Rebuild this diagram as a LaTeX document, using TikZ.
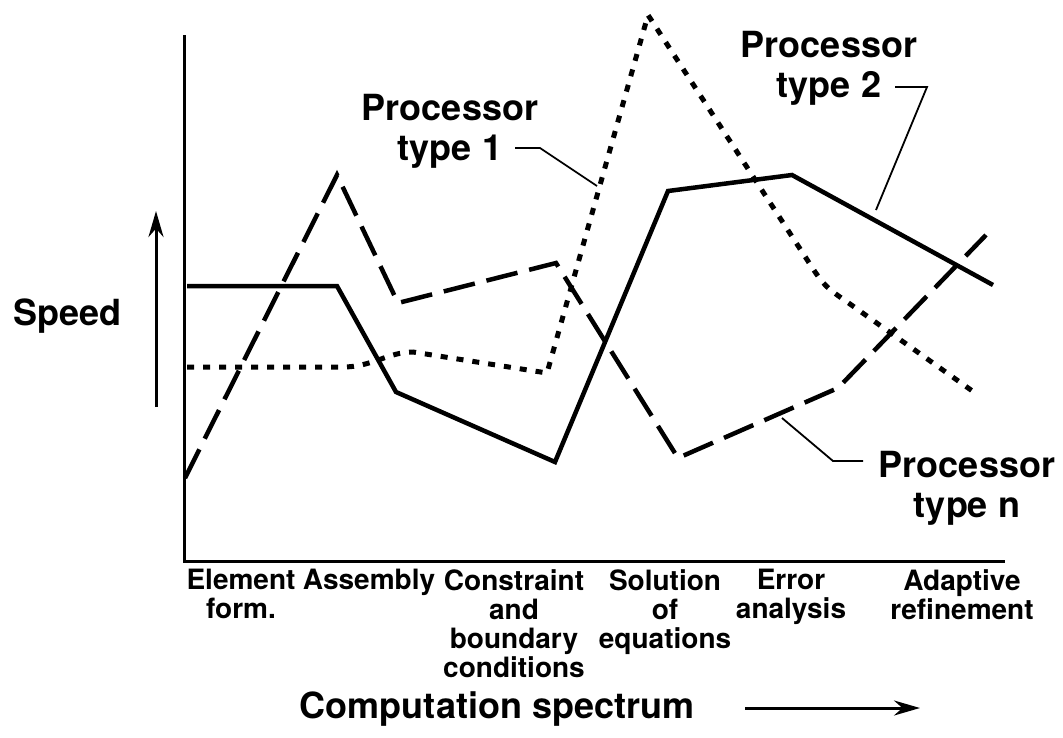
\documentclass[tikz,border=0pt]{standalone}
\usepackage{fontspec}
\setmainfont{TeX Gyre Heros}
\usetikzlibrary{arrows.meta}
\begin{document}
\begin{tikzpicture}[x=1pt,y=-1pt,
  axis/.style={line width=3pt},
  curve/.style={line width=4.5pt, line join=miter},
  leader/.style={line width=1.8pt},
  lbl/.style={font=\fontsize{36}{40}\selectfont\bfseries, align=center, inner sep=0pt},
  ticklbl/.style={font=\fontsize{28}{29}\selectfont\bfseries, align=center, inner sep=0pt, anchor=north},
  typeone/.style={curve, line width=5pt, dash pattern=on 7pt off 9pt},
  typetwo/.style={curve},
  typen/.style={curve, dash pattern=on 32pt off 12pt},
  bigarrow/.style={line width=3pt, -{Stealth[length=26pt,width=15pt]}}
]
\useasboundingbox (0,0) rectangle (1063,737);

% axes
\coordinate (ytop) at (184,35);
\coordinate (orig) at (184,561);
\coordinate (xend) at (1005,561);
\draw[axis] (ytop) -- (orig) -- (xend);

% speed arrow
\coordinate (sp0) at (156,407);
\coordinate (sp1) at (156,211);
\draw[bigarrow] (sp0) -- (sp1);
\node[lbl, anchor=base west] (speed) at (13,325) {Speed};

% processor type 2 (solid)
\draw[typetwo] (187,286) -- (337,286) -- (396,392) -- (555,462) -- (668,191) -- (792,175) -- (993,285);

% processor type n (dashed)
\draw[typen] (185,478) -- (337,175) -- (398,303) -- (556,263) -- (678,458) -- (838,388) -- (986,235);

% processor type 1 (dotted)
\draw[typeone] (187,367) -- (343,367) .. controls (372,367) and (388,352) .. (413,352) -- (547,373) -- (648,15) -- (806,258) .. controls (824,286) .. (850,304) -- (978,395);

% labels
\node[lbl, anchor=north] (p1) at (450,94) {Processor\\type 1};
\node[lbl, anchor=north] (p2) at (829,31) {Processor\\type 2};
\node[lbl, anchor=north] (pn) at (967,451) {Processor\\type n};

% leaders
\coordinate (l1a) at (515,148);
\coordinate (l1b) at (540,148);
\coordinate (l1c) at (597,186);
\draw[leader] (l1a) -- (l1b) -- (l1c);
\coordinate (l2a) at (895,87);
\coordinate (l2b) at (927,87);
\coordinate (l2c) at (876,210);
\draw[leader] (l2a) -- (l2b) -- (l2c);
\coordinate (lna) at (782,418);
\coordinate (lnb) at (833,461);
\coordinate (lnc) at (863,461);
\draw[leader] (lna) -- (lnb) -- (lnc);

% x labels
\node[ticklbl] (t1) at (241,569) {Element\\form.};
\node[ticklbl] (t2) at (369,569) {Assembly};
\node[ticklbl] (t3) at (514,569) {Constraint\\and\\boundary\\conditions};
\node[ticklbl] (t4) at (665,569) {Solution\\of\\equations};
\node[ticklbl] (t5) at (791,569) {Error\\analysis};
\node[ticklbl] (t6) at (962,569) {Adaptive\\refinement};

% computation spectrum
\node[lbl, anchor=base] (cs) at (497,718) {Computation spectrum};
\coordinate (cs0) at (745,708);
\coordinate (cs1) at (920,708);
\draw[bigarrow] (cs0) -- (cs1);
\end{tikzpicture}
\end{document}
